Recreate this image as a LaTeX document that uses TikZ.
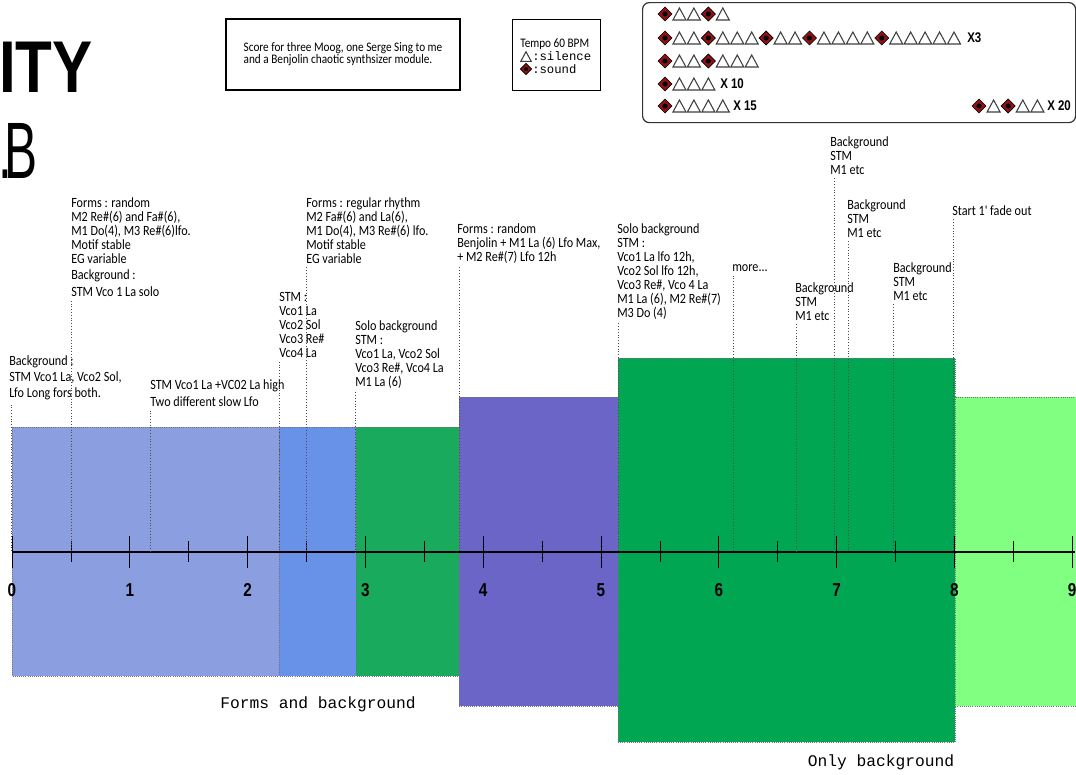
\documentclass[tikz,border=0pt]{standalone}
\usepackage{fontspec}
\newfontfamily\hand[FakeStretch=0.86]{Carlito}
\newfontfamily\heavy[FakeStretch=0.82]{Liberation Sans}
\newfontfamily\thin[FakeStretch=0.62]{Liberation Sans}
\newfontfamily\mono{Liberation Mono}

\definecolor{bgA}{HTML}{8A9EE0}
\definecolor{bgB}{HTML}{6891E8}
\definecolor{bgC}{HTML}{1AAA5E}
\definecolor{bgD}{HTML}{6A65C6}
\definecolor{bgE}{HTML}{00A651}
\definecolor{bgF}{HTML}{80FF80}
\definecolor{sound}{HTML}{8E1414}

\tikzset{
  note/.style={anchor=north west, inner sep=0pt, align=left,
    font=\hand\fontsize{10.6}{10.5}\selectfont},
  guide/.style={draw=black!70, line width=0.6pt, dash pattern=on 0.6pt off 1.5pt},
  band/.style={draw=black!55, line width=0.5pt, dash pattern=on 0.6pt off 1pt},
  tickmaj/.style={line width=0.6pt},
  numlbl/.style={font=\heavy\bfseries\fontsize{14}{14}\selectfont, inner sep=0pt},
  rowtag/.style={anchor=west, inner sep=0pt, font=\heavy\bfseries\fontsize{10.5}{10.5}\selectfont},
  caption/.style={font=\mono\fontsize{12.2}{12.2}\selectfont, inner sep=0pt},
  framebox/.style={draw=black, line width=0.8pt, inner sep=0pt},
  symD/.pic={
    \filldraw[fill=sound, draw=black, line width=0.5pt] (0,-7)--(7,0)--(0,7)--(-7,0)--cycle;
    \fill[black] (0,0) circle (1.9pt);
  },
  symT/.pic={
    \filldraw[fill=white, draw=black!75, line width=0.8pt] (-6.5,6)--(6.5,6)--(0,-6)--cycle;
  }
}

% one row of the rhythm patterns: x of first symbol, y, step, sound slots, silence slots
\newcommand\symrow[5]{%
  \foreach \k in {#4} {\pic at ({#1+\k*#3},#2) {symD};}%
  \foreach \k in {#5} {\pic at ({#1+\k*#3},#2) {symT};}%
}

\begin{document}
\begin{tikzpicture}[x=0.75pt, y=-0.75pt]
\useasboundingbox (0,0) rectangle (1076,775);
\clip (0,0) rectangle (1076,775);

% title
\node[anchor=base east, inner sep=0pt, font=\heavy\bfseries\fontsize{55}{55}\selectfont] (ttl) at (93,92) {ITY};
\node[anchor=base east, inner sep=0pt, font=\thin\fontsize{60}{60}\selectfont] (sub) at (38,178) {\kern-3pt.\kern-5.5pt B};

% header boxes
\node[framebox, minimum width=175.5pt, minimum height=53.25pt, align=left,
      font=\hand\fontsize{9.8}{9}\selectfont] (score) at (343,54.5)
  {Score for three Moog, one Serge Sing to me\\and a Benjolin chaotic synthsizer module.};
\node[framebox, anchor=north west, minimum width=66pt, minimum height=53.25pt] (key) at (512,19) {};
\node[anchor=west, inner sep=0pt, font=\hand\fontsize{9.8}{9.8}\selectfont] (tempo) at (520,44) {Tempo 60 BPM};
\pic[scale=0.8] at (526,56.5) {symT};
\node[anchor=west, inner sep=0pt, font=\mono\fontsize{9.2}{9.2}\selectfont] (sil) at (532,56) {:silence};
\pic[scale=0.8] at (526,69) {symD};
\node[anchor=west, inner sep=0pt, font=\mono\fontsize{9.2}{9.2}\selectfont] (snd) at (532,69) {:sound};

% rhythm patterns
\node[draw=black!80, line width=0.9pt, rounded corners=5pt, anchor=north west,
      minimum width=324.75pt, minimum height=90pt, inner sep=0pt] (patterns) at (642,2) {};
\symrow{665}{14}{14.45}{0,3}{1,2,4}
\symrow{665}{38}{14.45}{0,3,7,10,15}{1,2,4,5,6,8,9,11,12,13,14,16,17,18,19,20}
\node[rowtag] (r2) at (967,38) {X3};
\symrow{665}{61}{14.45}{0,3}{1,2,4,5,6}
\symrow{665}{84}{14.45}{0}{1,2,3}
\node[rowtag] (r4) at (720,84) {X 10};
\symrow{665}{106}{14.45}{0}{1,2,3,4}
\node[rowtag] (r5) at (733,106) {X 15};
\symrow{979}{106}{14.6}{0,2}{1,3,4}
\node[rowtag] (r6) at (1047,106) {X 20};

% sections
\filldraw[fill=bgA, band] (12,427) rectangle (279,676);
\filldraw[fill=bgB, band] (279,427) rectangle (356,676);
\filldraw[fill=bgC, band] (356,427) rectangle (459,676);
\filldraw[fill=bgD, band] (459,397) rectangle (618,706);
\filldraw[fill=bgE, band] (618,358) rectangle (955,742);
\filldraw[fill=bgF, band] (955,397) rectangle (1080,706);

\node[caption] (fab) at (318,704) {Forms and background};
\node[caption] (ob) at (881,762) {Only background};

% time axis
\coordinate (ax0) at (12,552);
\coordinate (ax9) at (1075,552);
\draw[line width=1.1pt] (ax0) -- (ax9);
\foreach \t in {0,...,9} {
  \draw[tickmaj] ({12+117.8*\t},536) -- ++(0,32);
  \node[numlbl] at ({12+117.8*\t},590) {\t};
}
\foreach \t in {0.5,1.5,...,8.5}
  \draw[tickmaj] ({12+117.8*\t},541) -- ++(0,21);

% annotations
\node[note] (b1) at (9,355) {Background :\\[1.8pt]STM Vco1 La, Vco2 Sol,\\[1.8pt]Lfo Long fors both.};
\node[note] (f1) at (71,197) {Forms : random\\M2 Re\#(6) and Fa\#(6),\\M1 Do(4), M3 Re\#(6)lfo.\\Motif stable\\EG variable\\[2pt]Background :\\[2pt]STM Vco 1 La solo};
\node[note] (b2) at (150,379) {STM Vco1 La +VC02 La high\\[2.3pt]Two different slow Lfo};
\node[note] (s1) at (279,292) {STM :\\Vco1 La\\Vco2 Sol\\Vco3 Re\#\\Vco4 La};
\node[note] (f2) at (306,197) {Forms : regular rhythm\\M2 Fa\#(6) and La(6),\\M1 Do(4), M3 Re\#(6) lfo.\\Motif stable\\EG variable};
\node[note] (s2) at (355,320) {Solo background\\STM :\\Vco1 La, Vco2 Sol\\Vco3 Re\#, Vco4 La\\M1 La (6)};
\node[note] (f3) at (457,223) {Forms : random\\Benjolin + M1 La (6) Lfo Max,\\+ M2 Re\#(7) Lfo 12h};
\node[note] (s3) at (617,223) {Solo background\\STM :\\Vco1 La lfo 12h,\\Vco2 Sol lfo 12h,\\Vco3 Re\#, Vco 4 La\\M1 La (6), M2 Re\#(7)\\M3 Do (4)};
\node[note] (mo) at (732,264) {more...};
\node[note] (g1) at (795,282) {Background\\STM\\M1 etc};
\node[note] (g2) at (830,136) {Background\\STM\\M1 etc};
\node[note] (g3) at (847,199) {Background\\STM\\M1 etc};
\node[note] (g4) at (893,262) {Background\\STM\\M1 etc};
\node[note] (fd) at (952,205) {Start 1' fade out};

% leader lines from the notes down to the axis
\foreach \n/\dx in {b1/1.5pt, f1/0pt, b2/0pt, s1/0pt, f2/0pt, s2/0pt, f3/1.5pt, s3/0.8pt,
                    mo/0.8pt, g1/0.8pt, g2/3pt, g3/0.8pt, g4/0pt, fd/0.8pt}
  \draw[guide] ([xshift=\dx, yshift=-3pt]\n.south west) -- ([xshift=\dx]\n.south west |- ax0);

\end{tikzpicture}
\end{document}
